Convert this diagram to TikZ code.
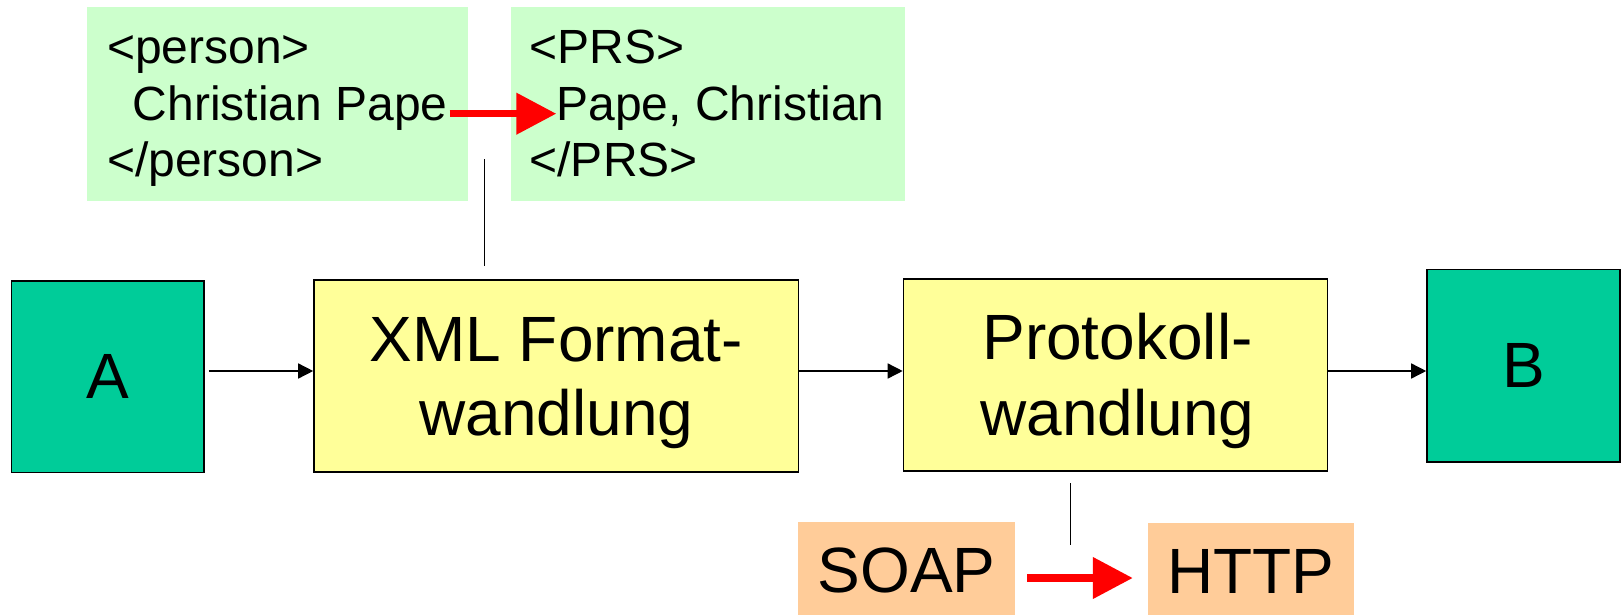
\documentclass[tikz,border=0pt]{standalone}
\usepackage{fontspec}
\setmainfont{Liberation Sans}
\usetikzlibrary{arrows.meta}
\definecolor{mintbg}{HTML}{CCFFCC}
\definecolor{tealbox}{HTML}{00CC99}
\definecolor{paleyellow}{HTML}{FFFF99}
\definecolor{peach}{HTML}{FFCC99}
\begin{document}
\begin{tikzpicture}[x=1pt,y=-1pt,
  endpoint/.style={draw=black,line width=1.6pt,fill=tealbox,inner sep=0pt,
    font=\fontsize{64}{74}\selectfont},
  stage/.style={draw=black,line width=1.6pt,fill=paleyellow,inner sep=0pt},
  xmlbox/.style={fill=mintbg,inner sep=0pt},
  protobox/.style={fill=peach,inner sep=0pt,font=\fontsize{64}{74}\selectfont},
  code/.style={inner sep=0pt,anchor=base west,font=\fontsize{48}{57}\selectfont},
  big/.style={inner sep=0pt,anchor=base,font=\fontsize{64}{75}\selectfont},
  flow/.style={line width=1.5pt,-{Triangle[length=15pt,width=15pt]}},
  convert/.style={red,line width=7.5pt,-{Triangle[length=40pt,width=40pt]}},
  tick/.style={line width=1.5pt}]

\useasboundingbox (0,0) rectangle (1621,615);
\clip (0,0) rectangle (1621,615);

% XML snippets before and after the format conversion
\node[xmlbox,minimum width=381.6pt,minimum height=193.4pt] (src) at (277.5,104) {};
\node[xmlbox,minimum width=394pt,minimum height=193.4pt] (dst) at (708,104) {};
\node[code] (s1) at (107,63.3) {<person>};
\node[code] (s2) at (132.5,120.7) {Christian Pape};
\node[code] (s3) at (107,176.7) {</person>};
\node[code] (d1) at (529.4,63.3) {<PRS>};
\node[code] (d2) at (556.3,120.7) {Pape, Christian};
\node[code] (d3) at (529.4,176.7) {</PRS>};

% main chain
\node[endpoint,minimum width=192.5pt,minimum height=191.6pt] (A) at (107.75,376.5) {A};
\node[stage,minimum width=484.6pt,minimum height=192pt] (xml) at (556.3,376) {};
\node[big] (xml1) at (556.3,361) {XML Format-};
\node[big] (xml2) at (556.3,435.7) {wandlung};
\node[stage,minimum width=424pt,minimum height=192pt] (proto) at (1115.5,375) {};
\node[big] (pro1) at (1117.5,359.5) {Protokoll-};
\node[big] (pro2) at (1117.5,435) {wandlung};
\node[endpoint,minimum width=193pt,minimum height=192.4pt] (B) at (1523.5,365.5) {B};

% protocols
\node[protobox,minimum width=217pt,minimum height=98.3pt] (soap) at (906.5,570.85) {SOAP};
\node[protobox,minimum width=205.6pt,minimum height=96.7pt] (http) at (1250.8,571.65) {HTTP};

% data flow
\coordinate (flowline) at (0,371);
\draw[flow,shorten <=4pt] (A.east |- flowline) -- (xml.west |- flowline);
\draw[flow] (xml.east |- flowline) -- (proto.west |- flowline);
\draw[flow] (proto.east |- flowline) -- (B.west |- flowline);

% callout ticks
\coordinate (t1a) at (484.7,159);
\coordinate (t1b) at (484.7,265.7);
\draw[tick] (t1a) -- (t1b);
\coordinate (t2a) at (1070.4,483.3);
\coordinate (t2b) at (1070.4,545);
\draw[tick] (t2a) -- (t2b);

% conversions
\draw[convert,shorten <=2pt] ([yshift=7pt]s2.base east) -- ([yshift=7pt]d2.base west);
\coordinate (convline) at (0,578);
\draw[convert,shorten <=12pt,shorten >=15pt] (soap.east |- convline) -- (http.west |- convline);
\end{tikzpicture}
\end{document}
